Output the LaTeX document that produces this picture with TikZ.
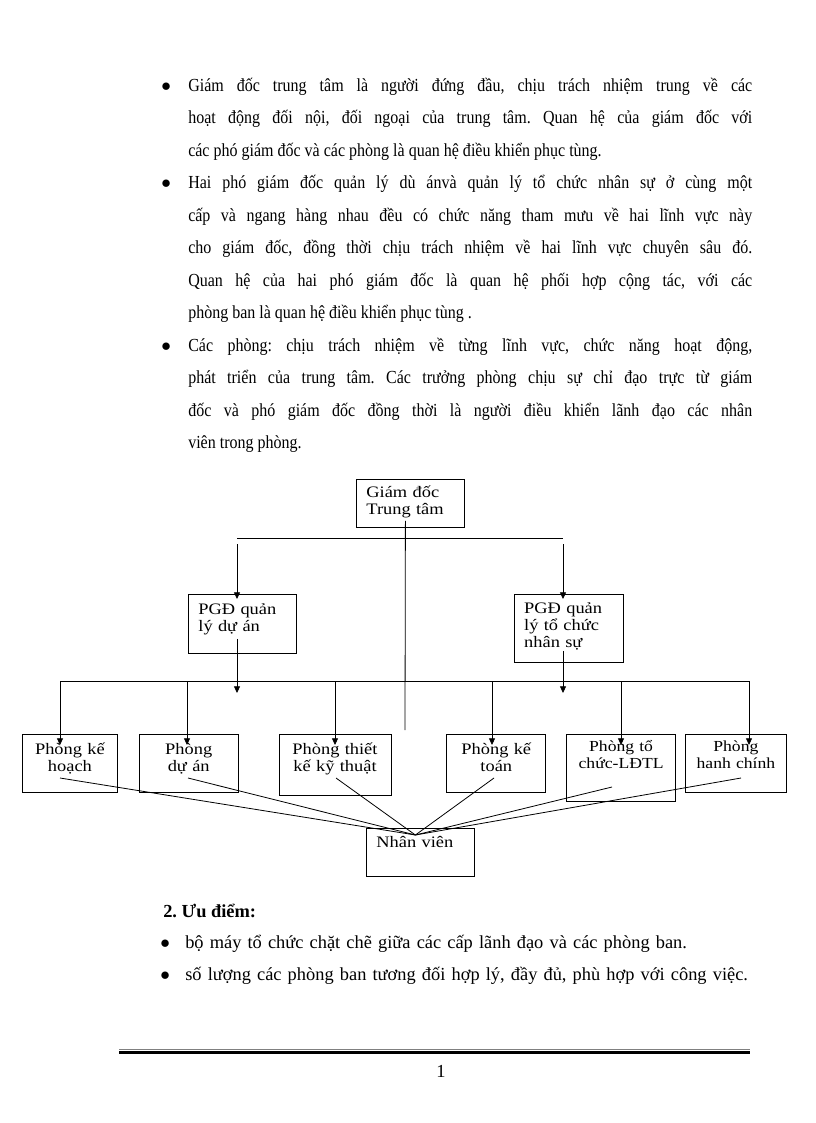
\documentclass[tikz,border=0pt]{standalone}
\usepackage{fontspec}
\setmainfont{Liberation Serif}
\newfontfamily\chartfont[FakeStretch=1.15]{Liberation Serif}
\newfontfamily\bodyfont[FakeStretch=0.87]{Liberation Serif}
\usetikzlibrary{positioning,calc}
\usetikzlibrary{arrows.meta}
\newcommand{\itemdot}[1]{\leavevmode\llap{$\bullet$\hspace*{#1}}}
\frenchspacing

\begin{document}
\begin{tikzpicture}[
         x=0.75pt, y=-0.75pt,
         every node/.style = {inner sep=0pt},
         unit/.style 2 args = {draw, line width=0.6pt, align=center,
            text width=#1, text height=15.4pt, text depth=#2,
            font=\chartfont\fontsize{12}{12.5}\selectfont},
         lead/.style 2 args = {draw, line width=0.6pt, align=left,
            inner xsep=7.5pt, text width=#1, text depth=#2,
            font=\chartfont\fontsize{12}{12.5}\selectfont},
         link/.style = {line width=0.6pt},
         down/.style = {link, -{Triangle[length=5pt,width=4.5pt]}},
         para/.style = {text width=423pt, align=justify,
            font=\bodyfont\fontsize{13.8}{24.34}\selectfont}
]
         \useasboundingbox (0,0) rectangle (816,1123);

         % duties of each level
         \node[para, anchor=base west] (duties) at (188,91.5) {%
            \itemdot{13pt}Giám đốc trung tâm là người đứng đầu, chịu trách nhiệm trung về các\linebreak
            hoạt động đối nội, đối ngoại của trung tâm. Quan hệ của giám đốc với\linebreak
            các phó giám đốc và các phòng là quan hệ điều khiển phục tùng.\par
            \itemdot{13pt}Hai phó giám đốc quản lý dù ánvà quản lý tổ chức nhân sự ở cùng một\linebreak
            cấp và ngang hàng nhau đều có chức năng tham mưu về hai lĩnh vực này\linebreak
            cho giám đốc, đồng thời chịu trách nhiệm về hai lĩnh vực chuyên sâu đó.\linebreak
            Quan hệ của hai phó giám đốc là quan hệ phối hợp cộng tác, với các\linebreak
            phòng ban là quan hệ điều khiển phục tùng .\par
            \itemdot{13pt}Các phòng: chịu trách nhiệm về từng lĩnh vực, chức năng hoạt động,\linebreak
            phát triển của trung tâm. Các trưởng phòng chịu sự chỉ đạo trực từ giám\linebreak
            đốc và phó giám đốc đồng thời là người điều khiển lãnh đạo các nhân\linebreak
            viên trong phòng.};

         % leaders
         \node[lead={66pt}{22.1pt}, text height=13.9pt, anchor=north west]
            (gd) at (356,479) {Giám đốc\\Trung tâm};
         \node[lead={66pt}{28.85pt}, text height=15.4pt, anchor=north west]
            (pgd1) at (188,594) {PGĐ quản\\lý dự án};
         \node[lead={66.75pt}{36.4pt}, text height=14.6pt, anchor=north west,
            right=162.75pt of pgd1.north east, anchor=north west]
            (pgd2) {PGĐ quản\\lý tổ chức\\nhân sự};

         % departments
         \node[unit={71.25pt}{28.1pt}, anchor=north west]
            (p1) at (22,734) {Phòng kế\\hoạch};
         \node[unit={74.25pt}{28.1pt}, right=15.75pt of p1.north east,
            anchor=north west] (p2) {Phòng\\dự án};
         \node[unit={84pt}{30.35pt}, right=30pt of p2.north east,
            anchor=north west] (p3) {Phòng thiết\\kế kỹ thuật};
         \node[unit={74.25pt}{28.1pt}, right=41.25pt of p3.north east,
            anchor=north west] (p4) {Phòng kế\\toán};
         \node[unit={81.75pt}{37.15pt}, text height=13.1pt,
            font=\chartfont\fontsize{11.5}{12.5}\selectfont,
            right=15pt of p4.north east, anchor=north west] (p5) {Phòng tổ\\chức-LĐTL};
         \node[unit={75.75pt}{30.4pt}, text height=13.1pt,
            font=\chartfont\fontsize{11.5}{12.5}\selectfont,
            right=6.75pt of p5.north east, anchor=north west] (p6) {Phòng\\hanh chính};

         % staff
         \node[lead={66pt}{21.4pt}, text height=14.6pt, anchor=north west]
            (nv) at (366,828) {Nhân viên};

         % director to deputies
         \coordinate (stem) at (405,730);
         \coordinate (armL) at (237,538);
         \coordinate (armR) at (563,538);
         \draw[link] ([xshift=-3.75pt,yshift=5.25pt]gd.south) -- (stem);
         \draw[link] (armL) -- (armR);
         \draw[down] ([yshift=-4.5pt]armL) -- ([yshift=-3.75pt]armL |- pgd1.north);
         \draw[down] ([yshift=-4.5pt]armR) -- ([yshift=-3.75pt]armR |- pgd2.north);

         % bus to the departments
         \foreach \u/\xx in {p1/60, p2/187, p3/335, p4/492, p5/621, p6/749}{
            \coordinate (t\u) at (\xx,681);
            \draw[down] (t\u) -- ([yshift=-8.25pt]t\u |- \u.north);
         }
         \draw[link] (tp1) -- (tp6);
         \draw[down] ([yshift=11.25pt]armL |- pgd1.south) -- ([yshift=-9pt]armL |- tp1);
         \draw[down] ([yshift=9pt]armR |- pgd2.south) -- ([yshift=-9pt]armR |- tp1);

         % departments to staff
         \coordinate (hub) at ([xshift=-3.75pt,yshift=-5.25pt]nv.north);
         \foreach \u/\dx/\dy in {p1/0pt/33pt, p2/0.75pt/33pt, p3/0.75pt/33pt,
            p4/1.5pt/33pt, p5/-6.75pt/39.75pt, p6/-6pt/33pt}{
            \draw[link] ([xshift=\dx,yshift=-\dy]t\u |- \u.north) -- (hub);
         }

         % advantages
         \node[anchor=base west, font=\bfseries\fontsize{13.8}{16}\selectfont]
            (adv) at (163,917) {2. Ưu điểm:};
         \node[anchor=base west, text width=460pt, align=left,
            font=\fontsize{13.8}{24}\selectfont] (advlist) at (185,948.5) {%
            \itemdot{11.5pt}bộ máy tổ chức chặt chẽ giữa các cấp lãnh đạo và các phòng ban.\par
            \itemdot{11.5pt}số lượng các phòng ban tương đối hợp lý, đầy đủ, phù hợp với công việc.};

         % footer
         \coordinate (ruleL) at (119,1049.5);
         \coordinate (ruleR) at (750,1049.5);
         \draw[gray, line width=0.75pt] (ruleL) -- (ruleR);
         \draw[line width=1.9pt] ([yshift=-2.25pt]ruleL) -- ([yshift=-2.25pt]ruleR);
         \node[anchor=base, font=\fontsize{13.8}{16}\selectfont] (pageno) at (441,1077) {1};
\end{tikzpicture}
\end{document}
